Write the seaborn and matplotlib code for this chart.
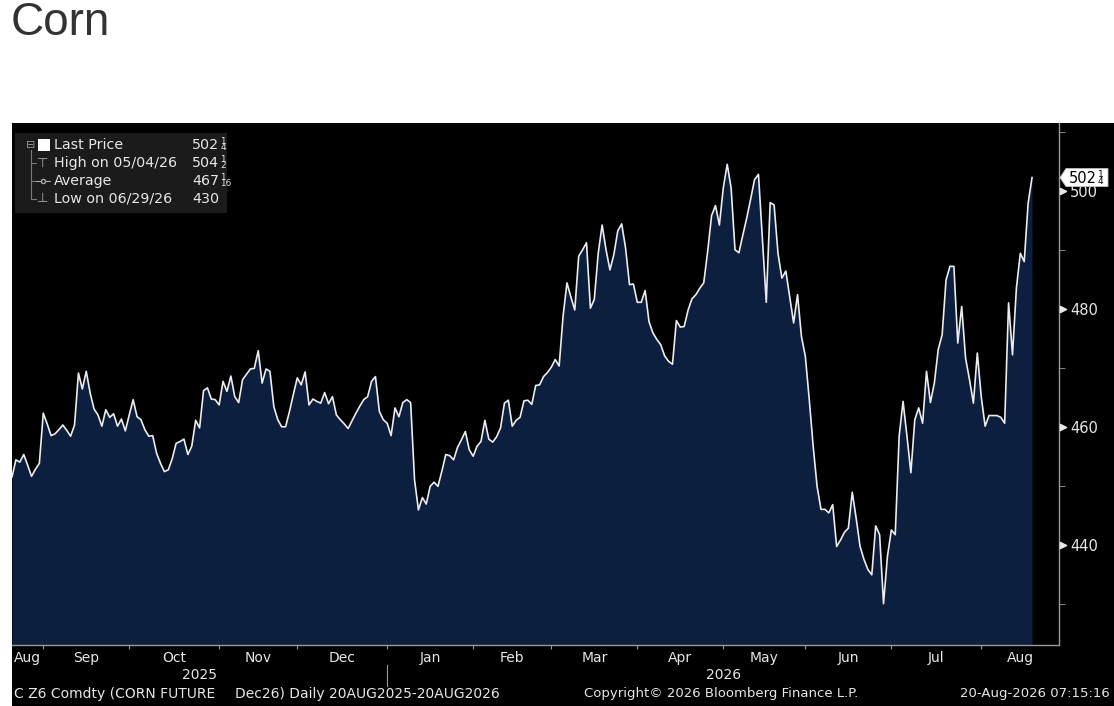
import numpy as np
import pandas as pd
import matplotlib.pyplot as plt
import seaborn as sns
from matplotlib.patches import Rectangle, Polygon
from matplotlib.lines import Line2D

# --- data (C Z6 Comdty, daily) ---
dates = pd.bdate_range("2025-08-20", "2026-08-20")
prices = [
    451.5, 454.4, 454.0, 455.3, 453.5, 451.6, 452.8, 453.8, 462.3, 460.5,
    458.5, 458.8, 459.5, 460.3, 459.4, 458.4, 460.3, 469.1, 466.4, 469.4,
    465.7, 463.0, 462.0, 460.1, 462.9, 461.6, 462.2, 460.1, 461.3, 459.3,
    462.0, 464.6, 461.7, 461.2, 459.5, 458.4, 458.5, 455.5, 453.8, 452.4,
    452.7, 454.6, 457.2, 457.5, 457.9, 455.3, 456.7, 461.1, 459.8, 466.1,
    466.6, 464.7, 464.6, 463.7, 467.7, 466.0, 468.6, 465.1, 464.1, 468.0,
    468.9, 469.8, 469.9, 472.9, 467.4, 469.8, 469.4, 463.4, 461.2, 460.0,
    460.0, 462.6, 465.5, 468.3, 467.1, 469.3, 463.7, 464.7, 464.3, 464.0,
    465.8, 463.9, 465.1, 462.0, 461.2, 460.5, 459.7, 461.0, 462.3, 463.5,
    464.6, 465.1, 467.7, 468.5, 462.6, 461.2, 460.6, 458.5, 463.2, 461.7,
    464.1, 464.6, 464.1, 451.0, 445.9, 448.0, 446.9, 449.9, 450.6, 449.9,
    452.5, 455.3, 455.1, 454.4, 456.5, 457.8, 459.2, 456.1, 455.0, 456.7,
    457.5, 461.1, 457.9, 457.4, 458.3, 459.8, 464.0, 464.5, 460.1, 461.1,
    461.6, 464.4, 464.5, 463.8, 467.0, 467.1, 468.5, 469.2, 470.1, 471.4,
    470.3, 478.7, 484.4, 482.0, 479.8, 488.9, 490.0, 491.2, 480.1, 481.6,
    489.4, 494.2, 490.0, 486.6, 489.2, 493.2, 494.4, 490.3, 484.1, 484.2,
    481.1, 481.1, 483.1, 477.8, 475.9, 474.8, 473.9, 472.0, 471.1, 470.6,
    478.0, 476.9, 477.0, 479.8, 481.7, 482.4, 483.5, 484.4, 489.7, 495.8,
    497.5, 494.2, 500.5, 504.5, 500.5, 490.0, 489.5, 492.5, 495.4, 498.6,
    501.9, 502.8, 492.0, 481.1, 498.0, 497.6, 489.4, 485.2, 486.4, 482.0,
    477.6, 482.4, 475.3, 471.9, 464.6, 456.7, 449.9, 446.0, 446.0, 445.4,
    446.8, 439.7, 440.8, 442.1, 442.8, 448.9, 444.5, 439.7, 437.5, 435.8,
    434.9, 443.2, 441.7, 430.0, 438.0, 442.5, 441.7, 458.4, 464.3, 458.4,
    452.2, 461.2, 463.2, 460.6, 469.4, 464.1, 467.4, 473.1, 475.6, 484.9,
    487.2, 487.2, 474.2, 480.4, 471.6, 468.0, 464.0, 472.5, 465.1, 460.1,
    461.9, 461.9, 461.9, 461.6, 460.6, 481.0, 472.2, 483.5, 489.4, 488.0,
    497.9, 502.25,
]
# values written Bloomberg style: whole part + stacked fraction (numerator, denominator)
last_value = ("502", "1", "4")
legend_labels = ["Last Price", "High on 05/04/26", "Average", "Low on 06/29/26"]
legend_values = [("502", "1", "4"), ("504", "1", "2"), ("467", "1", "16"), ("430", "", "")]
y_major = [440, 460, 480, 500]
y_minor = [430, 450, 470, 490, 510]
footer_left = ["C Z6 Comdty (CORN FUTURE", "Dec26) Daily 20AUG2025-20AUG2026"]
footer_mid = "Copyright© 2026 Bloomberg Finance L.P."
footer_right = "20-Aug-2026 07:15:16"

df = pd.DataFrame({"pos": np.arange(len(dates)), "date": dates, "price": prices})

W, H = 1114, 706
plt.rcParams["font.family"] = ["DejaVu Sans"]
TXT = "#e6e6e6"
AXC = "#9a9a9a"


def fx(px):
    return px / W


def fy(py):
    return 1 - py / H


fig = plt.figure(figsize=(W / 100, H / 100), dpi=100, facecolor="white")
renderer = fig.canvas.get_renderer()


def frac_text(x, y, value, size, color, z=5):
    # whole number, then a small numerator over denominator right after it
    whole, num, den = value
    t = fig.text(fx(x), fy(y), whole, ha="left", va="center", color=color, fontsize=size, zorder=z)
    if num:
        x1 = t.get_window_extent(renderer=renderer).x1 + 1
        fig.text(x1 / W, fy(y - 4), num, ha="left", va="center", color=color,
                 fontsize=size * 0.62, zorder=z)
        fig.text(x1 / W, fy(y + 3), den, ha="left", va="center", color=color,
                 fontsize=size * 0.62, zorder=z)


fig.add_artist(Rectangle((fx(12), 0), 1 - fx(12), fy(123), transform=fig.transFigure,
                         facecolor="black", edgecolor="none", zorder=-5))

ax = fig.add_axes([fx(12), fy(645), fx(1059) - fx(12), fy(123) - fy(645)])
ax.set_facecolor("black")
ymin, ymax = 423, 511.5
ax.fill_between(df["pos"], df["price"], ymin, color="#0d1f3e", lw=0)
sns.lineplot(data=df, x="pos", y="price", ax=ax, color="#ececec", lw=1.2)
ax.set_xlim(0, len(df) - 1 + 6.9)
ax.set_ylim(ymin, ymax)
ax.set_xlabel("")
ax.set_ylabel("")

for side in ["left", "top"]:
    ax.spines[side].set_visible(False)
for side in ["right", "bottom"]:
    ax.spines[side].set_color(AXC)
    ax.spines[side].set_linewidth(1)

# months on x
month_start = df.groupby(df["date"].dt.to_period("M"))["pos"].first()
xend = ax.get_xlim()[1]
bounds = list(month_start.values) + [xend]
mids = [(bounds[i] + bounds[i + 1]) / 2 for i in range(len(bounds) - 1)]
ax.set_xticks(month_start.values[1:])
ax.set_xticklabels([])
ax.set_xticks(mids, minor=True)
ax.set_xticklabels([p.strftime("%b") for p in month_start.index], minor=True)
ax.tick_params(axis="x", which="major", length=3, color=AXC, direction="out")
ax.tick_params(axis="x", which="minor", length=0, labelcolor=TXT, labelsize=10, pad=4)

# years row
year_start = df.groupby(df["date"].dt.year)["pos"].first()
ybounds = list(year_start.values) + [xend]
xt = ax.get_xaxis_transform()
for i, yr in enumerate(year_start.index):
    ax.text((ybounds[i] + ybounds[i + 1]) / 2, -0.058, str(yr), transform=xt,
            ha="center", va="center", color=TXT, fontsize=10)
ax.add_line(Line2D([year_start.values[1]] * 2, [-0.038, -0.078], transform=xt,
                   color=AXC, lw=0.8, clip_on=False))

# price axis on the right
ax.yaxis.tick_right()
ax.set_yticks(y_major)
ax.set_yticklabels([str(v) for v in y_major])
ax.set_yticks(y_minor, minor=True)
ax.tick_params(axis="y", which="major", length=0, pad=8, labelcolor=TXT, labelsize=10.5)
ax.tick_params(axis="y", which="minor", length=4, color=AXC, direction="out")
ax.scatter([1.0035] * len(y_major), y_major, transform=ax.get_yaxis_transform(),
           marker=">", s=20, color=TXT, clip_on=False, zorder=4)

# last price tag on the axis
ly = H - ax.transData.transform((0, df["price"].iloc[-1]))[1]
tag = [(1060, ly), (1066, ly - 9), (1108, ly - 9), (1108, ly + 9), (1066, ly + 9)]
fig.add_artist(Polygon([(fx(a), fy(b)) for a, b in tag], closed=True, transform=fig.transFigure,
                       facecolor="white", edgecolor="#bdbdbd", lw=0.6, zorder=6))
frac_text(1069, ly + 1, last_value, 10.5, "black", z=7)

# legend panel
tf = fig.transFigure
fig.add_artist(Rectangle((fx(15), fy(213)), fx(227) - fx(15), fy(133) - fy(213),
                         transform=tf, facecolor="#1b1b1b", edgecolor="none", zorder=3))
rows = [145, 163, 181, 199]
fig.add_artist(Line2D([fx(31), fx(31)], [fy(150), fy(199)], transform=tf, color="#7a7a7a", lw=0.8, zorder=4))
for r in rows[1:]:
    fig.add_artist(Line2D([fx(31), fx(36)], [fy(r), fy(r)], transform=tf, color="#7a7a7a", lw=0.8, zorder=4))
fig.text(fx(31), fy(145), "⊟", ha="center", va="center", color="#9a9a9a", fontsize=8, zorder=5)
fig.add_artist(Rectangle((fx(38), fy(151)), fx(12), fx(12) * W / H, transform=tf,
                         facecolor="white", edgecolor="none", zorder=5))
fig.text(fx(43), fy(163), "⊤", ha="center", va="center", color="#a8a8a8", fontsize=9.5, zorder=5)
fig.add_artist(Line2D([fx(36), fx(50)], [fy(181), fy(181)], transform=tf, color="#a8a8a8", lw=0.8, zorder=5))
fig.add_artist(Line2D([fx(43)], [fy(181)], transform=tf, marker="o", ms=3, mfc="#1b1b1b",
                      mec="#a8a8a8", lw=0, zorder=6))
fig.text(fx(43), fy(199), "⊥", ha="center", va="center", color="#a8a8a8", fontsize=9.5, zorder=5)
for r, lab, val in zip(rows, legend_labels, legend_values):
    fig.text(fx(54), fy(r), lab, ha="left", va="center", color=TXT, fontsize=10.3, zorder=5)
    frac_text(192, r, val, 10.3, TXT)

# footer + title
fig.text(fx(14), fy(694), footer_left[0], ha="left", va="center", color=TXT, fontsize=10)
fig.text(fx(235), fy(694), footer_left[1], ha="left", va="center", color=TXT, fontsize=10)
fig.text(fx(721), fy(694), footer_mid, ha="center", va="center", color=TXT, fontsize=9.5)
fig.text(fx(1110), fy(694), footer_right, ha="right", va="center", color=TXT, fontsize=9.5)
fig.text(fx(11), fy(23), "Corn", ha="left", va="center", color="#333333", fontsize=33,
         family=["Liberation Sans", "DejaVu Sans"])

fig.savefig("out.png", dpi=100, facecolor="white")
